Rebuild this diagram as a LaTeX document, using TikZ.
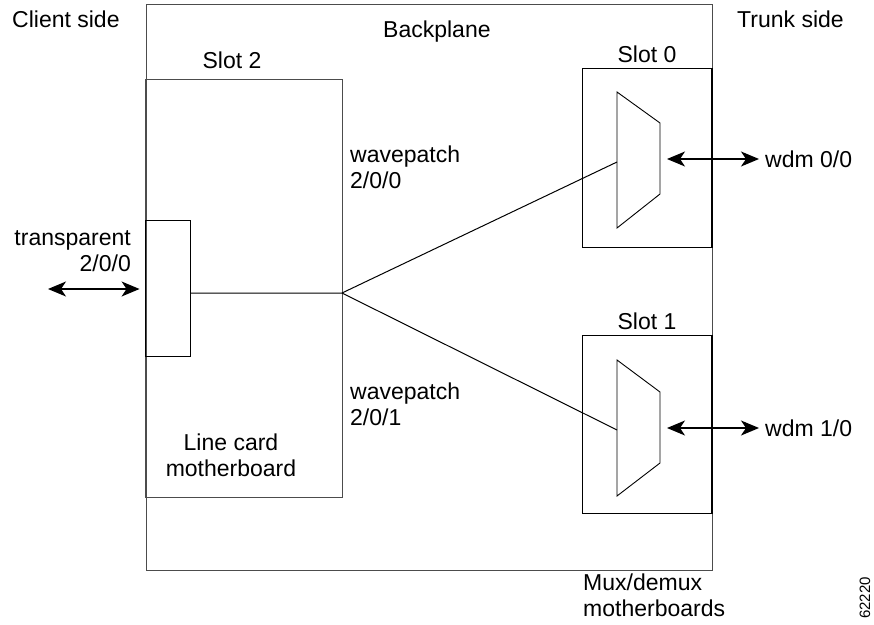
\documentclass[tikz,border=0pt]{standalone}
\usepackage{fontspec}
\setmainfont{Liberation Sans}
\usetikzlibrary{arrows.meta,positioning}

\begin{document}
\begin{tikzpicture}[x=1pt, y=-1pt,
  board/.style={rectangle, draw=black!70, line width=0.9pt, inner sep=0pt},
  slotbox/.style={rectangle, draw=black, line width=0.9pt, inner sep=0pt},
  lbl/.style={font=\fontsize{23}{26}\selectfont, inner sep=0pt},
  link/.style={draw=black, line width=1pt},
  mux/.style={draw=black, line width=0.9pt, line join=miter},
  dblarr/.style={{Stealth[length=18pt,width=15pt,inset=5pt]}-{Stealth[length=18pt,width=15pt,inset=5pt]},
                 line width=1.4pt}
]
\useasboundingbox (0,0) rectangle (874,624);
% ── Boards ───────────────────────────
\node[board, minimum width=566pt, minimum height=566pt] (backplane) at (429,287) {};
\node[board, minimum width=197pt, minimum height=418pt] (linecard) at (243.5,288) {};
\node[slotbox, minimum width=45pt, minimum height=136pt] (port) at (167.5,288) {};
\node[slotbox, minimum width=130pt, minimum height=179pt] (slot0) at (647,157.5) {};
\node[slotbox, minimum width=130pt, minimum height=178pt] (slot1) at (647,424) {};
\draw[line width=2pt] (slot0.north east) -- (slot0.south east);
\draw[line width=2pt] (slot1.north east) -- (slot1.south east);
% ── Mux/demux ────────────────────────
\draw[mux] (617,92) -- (660,123) -- (660,194) -- (617,228) -- cycle;
\draw[mux] (617,360) -- (660,392) -- (660,463) -- (617,496) -- cycle;
\coordinate (mux0in) at (617,162);
\coordinate (mux1in) at (617,430);
\coordinate (mux0out) at (667,159);
\coordinate (mux1out) at (667,428);
% ── Labels ───────────────────────────
\node[lbl, anchor=base west] (client) at (12,27) {Client side};
\node[lbl, anchor=base west] (bplabel) at (383,37) {Backplane};
\node[lbl, anchor=base west] (trunk) at (737,27) {Trunk side};
\node[lbl, anchor=base] (slot2lbl) at (232,68) {Slot 2};
\node[lbl, above=5pt of slot0] (slot0lbl) {Slot 0};
\node[lbl, above=5pt of slot1] (slot1lbl) {Slot 1};
\node[lbl, anchor=base west, align=left] (wp0) at (350,188) {wavepatch\\2/0/0};
\node[lbl, anchor=base west, align=left] (wp1) at (350,425) {wavepatch\\2/0/1};
\node[lbl, anchor=base, align=center] (lcmb) at (231,476) {Line card\\motherboard};
\node[lbl, anchor=base east, align=right] (transp) at (131,271) {transparent\\2/0/0};
\node[lbl, anchor=west] (wdm0) at (765,159) {wdm 0/0};
\node[lbl, anchor=west] (wdm1) at (765,428) {wdm 1/0};
\node[lbl, anchor=base west, align=left] (muxmb) at (583,616) {Mux/demux\\motherboards};
\node[font=\fontsize{15}{18}\selectfont, inner sep=0pt, rotate=90] (fignum) at (865,598) {62220};
% ── Connectors ───────────────────────
\coordinate (split) at (342,293);
\draw[link] (port.east |- split) -- (split) -- (mux0in);
\draw[link] (split) -- (mux1in);
\coordinate (clientend) at (48,289);
\draw[dblarr, shorten >=5pt] (clientend) -- (clientend -| port.west);
\draw[dblarr, shorten >=6pt] (mux0out) -- (wdm0.west);
\draw[dblarr, shorten >=6pt] (mux1out) -- (wdm1.west);
\end{tikzpicture}
\end{document}
